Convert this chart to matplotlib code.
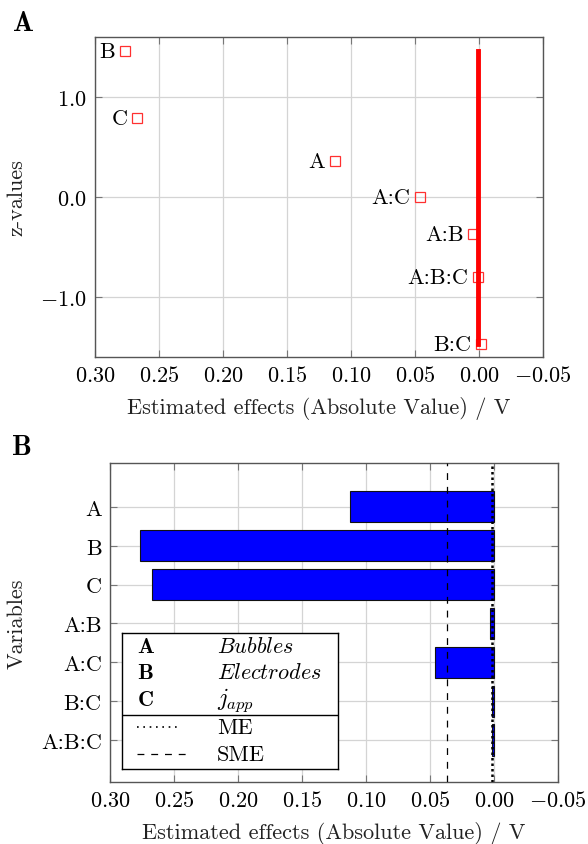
import matplotlib
matplotlib.use('Agg')
import matplotlib.pyplot as plt
import numpy as np
from matplotlib.lines import Line2D
from matplotlib.ticker import FuncFormatter

plt.rcParams['font.family'] = 'cmr10'
plt.rcParams['mathtext.fontset'] = 'cm'
plt.rcParams['axes.formatter.use_mathtext'] = True
plt.rcParams['font.size'] = 16

# effects (names in order of plot B, top to bottom)
effects = ['A', 'B', 'C', 'A:B', 'A:C', 'B:C', 'A:B:C']
abs_effects = [0.1125, 0.2766, 0.267, 0.003, 0.046, 0.0018, 0.0012]

# plot A: x positions of the markers and z-values
z_x = [0.1125, 0.2766, 0.267, 0.0045, 0.046, -0.0016, 0.001]
z_values = [0.36, 1.46, 0.79, -0.37, 0.0, -1.47, -0.80]
ref_x = 0.0005

me = 0.0013
sme = 0.037

x_ticks = [0.30, 0.25, 0.20, 0.15, 0.10, 0.05, 0.00, -0.05]
z_ticks = [-1.0, 0.0, 1.0]

legend_keys = [r'$\mathbf{A}$', r'$\mathbf{B}$', r'$\mathbf{C}$']
legend_names = [r'$Bubbles$', r'$Electrodes$', r'$j_{app}$']

W, H = 588, 845
fig = plt.figure(figsize=(W / 100, H / 100), dpi=100)


def px_axes(left, top, right, bottom):
    return fig.add_axes((left / W, 1 - bottom / H, (right - left) / W, (bottom - top) / H))


def fmt(decimals):
    return FuncFormatter(lambda v, p: '$%.*f$' % (decimals, v))


def style(ax):
    ax.grid(True, color='#d4d4d4', lw=0.9)
    ax.set_axisbelow(True)
    for s in ax.spines.values():
        s.set_color('#555555')
        s.set_linewidth(1.0)
    ax.tick_params(direction='in', length=5, color='#777777', width=0.8,
                   top=True, right=True, pad=6)
    ax.set_xlim(0.30, -0.05)
    ax.set_xticks(x_ticks)
    ax.xaxis.set_major_formatter(fmt(2))


# ---- panel A
axA = px_axes(95, 38, 543, 358)
style(axA)
axA.set_ylim(-1.6, 1.6)
axA.set_yticks(z_ticks)
axA.yaxis.set_major_formatter(fmt(1))
axA.plot(z_x, z_values, ls='none', marker='s', ms=7, mfc='none', mec='#ff3030',
         mew=0.9, zorder=3)
axA.plot([ref_x, ref_x], [min(z_values), max(z_values)], color='red', lw=3.5, zorder=4)
for name, x, z in zip(effects, z_x, z_values):
    axA.annotate(name, (x, z), xytext=(-7, 0), textcoords='offset points',
                 ha='right', va='center')
axA.set_ylabel('z-values', color='#222222')
axA.set_xlabel('Estimated effects (Absolute Value) / V', color='#222222')
axA.yaxis.set_label_coords(-0.152, 0.5)
axA.xaxis.set_label_coords(0.5, -0.122)
fig.text(13 / W, 1 - 24 / H, 'A', family='cmb10', fontsize=20, va='center')

# ---- panel B
axB = px_axes(110, 464, 558, 783)
style(axB)
pos = np.arange(len(effects))
axB.barh(pos, abs_effects, height=0.8, color='#0000ff', edgecolor='#111111',
         lw=0.8, zorder=2)
axB.set_yticks(pos)
axB.set_yticklabels(effects)
axB.set_ylim(len(effects) - 1 + 1.08, -1.13)
axB.axvline(me, color='black', lw=1.8, ls=(0, (1, 1.2)), zorder=3)
axB.axvline(sme, color='black', lw=0.9, ls=(0, (5.5, 5.5)), zorder=3)
axB.set_ylabel('Variables', color='#222222')
axB.set_xlabel('Estimated effects (Absolute Value) / V', color='#222222')
axB.yaxis.set_label_coords(-0.186, 0.5)
axB.xaxis.set_label_coords(0.5, -0.122)
fig.text(12 / W, 1 - 448 / H, 'B', family='cmb10', fontsize=20, va='center')

# legend box
lg = px_axes(122, 634, 338, 770)
lg.set_xlim(0, 1)
lg.set_ylim(0, 1)
lg.set_xticks([])
lg.set_yticks([])
for s in lg.spines.values():
    s.set_linewidth(1.0)
    s.set_color('black')
rows = [0.904, 0.713, 0.515]
for k, n, y in zip(legend_keys, legend_names, rows):
    lg.text(0.07, y, k, va='center', ha='left')
    lg.text(0.44, y, n, va='center', ha='left', fontsize=17 if 'j' in n else 16)
lg.add_line(Line2D([0, 1], [0.397, 0.397], color='black', lw=1.0))
lg.add_line(Line2D([0.07, 0.26], [0.309, 0.309], color='black', lw=1.2, ls=(0, (1, 2.8))))
lg.add_line(Line2D([0.07, 0.31], [0.110, 0.110], color='black', lw=0.9, ls=(0, (5.5, 5.5))))
lg.text(0.44, 0.309, 'ME', va='center', ha='left')
lg.text(0.44, 0.110, 'SME', va='center', ha='left')

fig.savefig('out.png', dpi=100)
